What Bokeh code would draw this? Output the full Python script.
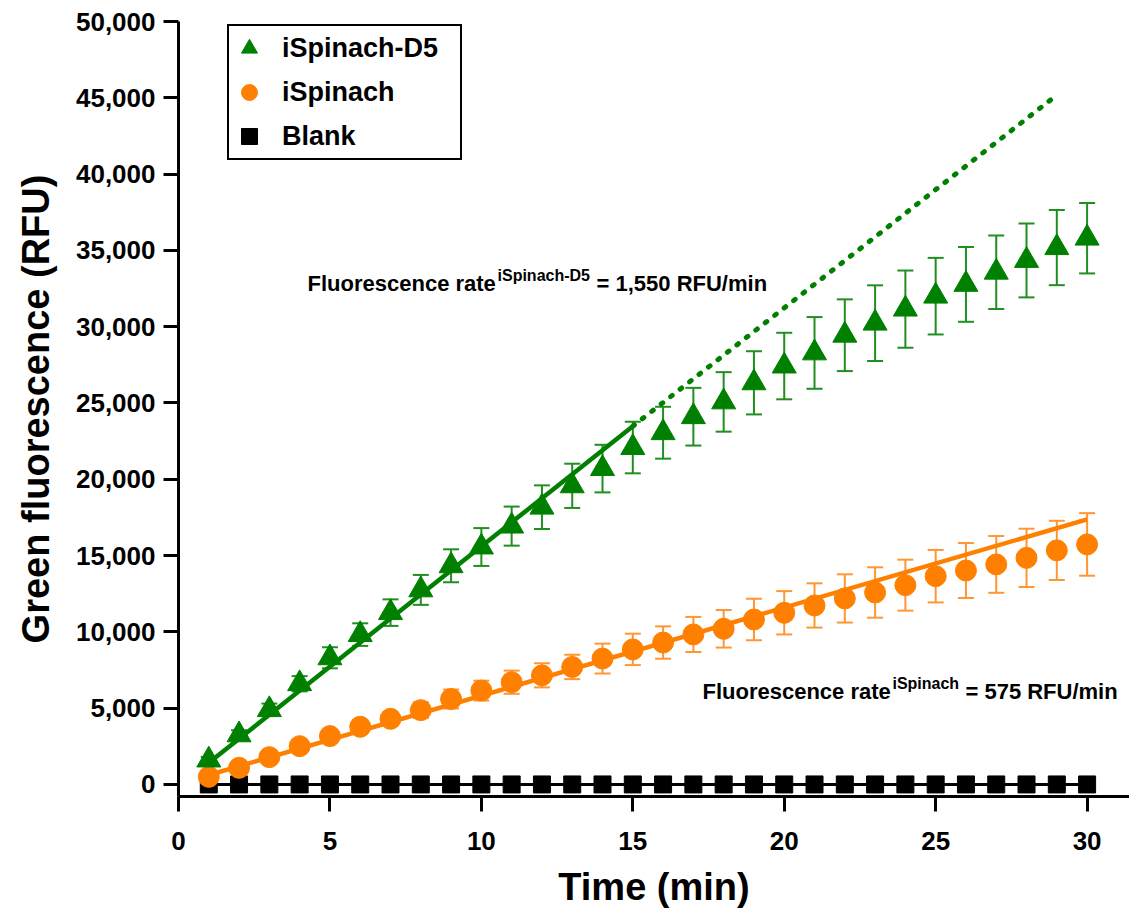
from bokeh.plotting import figure
from bokeh.models import (Range1d, FixedTicker, NumeralTickFormatter, Whisker, TeeHead,
                          ColumnDataSource, Legend, LegendItem, Label)
from bokeh.embed import file_html
from bokeh.resources import INLINE

# ---------------- data ----------------
time_min = [1, 2, 3, 4, 5, 6, 7, 8, 9, 10, 11, 12, 13, 14, 15,
            16, 17, 18, 19, 20, 21, 22, 23, 24, 25, 26, 27, 28, 29, 30]

d5_mean = [1600, 3250, 4900, 6600, 8300, 9820, 11260, 12750, 14330, 15560,
           16930, 18170, 19570, 20700, 22080, 23050, 24100, 25070, 26320, 27420,
           28280, 29440, 30230, 31150, 32000, 32770, 33570, 34340, 35180, 35800]
d5_sd = [200, 300, 400, 500, 690, 740, 870, 980, 1080, 1240,
         1280, 1430, 1450, 1560, 1690, 1700, 1890, 1950, 2070, 2180,
         2350, 2350, 2480, 2530, 2510, 2450, 2410, 2420, 2460, 2310]

isp_mean = [500, 1090, 1790, 2510, 3170, 3780, 4300, 4870, 5600, 6150,
            6700, 7150, 7700, 8250, 8850, 9300, 9830, 10200, 10810, 11250,
            11730, 12190, 12580, 13060, 13650, 14020, 14420, 14850, 15340, 15730]
isp_sd = [150, 200, 250, 300, 350, 400, 450, 520, 620, 650,
          760, 790, 800, 980, 1030, 1060, 1150, 1230, 1360, 1420,
          1450, 1580, 1650, 1670, 1720, 1800, 1860, 1910, 1940, 2050]

blank_mean = [0, 0, 0, 0, 0, 0, 0, 0, 0, 0, 0, 0, 0, 0, 0,
              0, 0, 0, 0, 0, 0, 0, 0, 0, 0, 0, 0, 0, 0, 0]

# linear fits (end points)
d5_fit_x = [1, 15]
d5_fit_y = [1420, 23480]
d5_ext_x = [15, 28.8]
d5_ext_y = [23480, 44870]
isp_fit_x = [1, 30]
isp_fit_y = [620, 17370]

x_ticks = [0, 5, 10, 15, 20, 25, 30]
y_ticks = [0, 5000, 10000, 15000, 20000, 25000, 30000, 35000, 40000, 45000, 50000]

series_labels = ["iSpinach-D5", "iSpinach", "Blank"]

GREEN = "#008000"
GREEN_ERR = "#1f8f1f"
ORANGE = "#FF8000"
ORANGE_ERR = "#FF9633"
FONT = "Liberation Sans"

# ---------------- figure ----------------
p = figure(width=1129, height=910, x_range=Range1d(0, 31.4), y_range=Range1d(-790, 50000),
           output_backend="svg", toolbar_location=None,
           min_border_left=178, min_border_right=0, min_border_top=21, min_border_bottom=114)
p.outline_line_color = None
p.xgrid.visible = False
p.ygrid.visible = False
p.background_fill_color = "white"

for ax in (p.xaxis[0], p.yaxis[0]):
    ax.axis_line_width = 3
    ax.axis_line_color = "black"
    ax.major_tick_line_width = 3
    ax.major_tick_line_color = "black"
    ax.major_tick_out = 15
    ax.major_tick_in = 0
    ax.minor_tick_out = 0
    ax.minor_tick_in = 0
    ax.major_label_text_font = FONT
    ax.major_label_text_font_style = "bold"
    ax.major_label_text_font_size = "26px"
    ax.major_label_text_color = "black"
    ax.axis_label_text_font = FONT
    ax.axis_label_text_font_style = "bold"
    ax.axis_label_text_font_size = "38px"
    ax.axis_label_text_color = "black"

p.xaxis[0].ticker = FixedTicker(ticks=x_ticks)
p.yaxis[0].ticker = FixedTicker(ticks=y_ticks)
p.yaxis[0].formatter = NumeralTickFormatter(format="0,0")
p.xaxis[0].axis_label = "Time (min)"
p.yaxis[0].axis_label = "Green fluorescence (RFU)"
p.xaxis[0].major_label_standoff = 20
p.xaxis[0].axis_label_standoff = 13
p.yaxis[0].major_label_standoff = 8
p.yaxis[0].axis_label_standoff = 16

# ---------------- error bars ----------------
def add_err(mean, sd, color):
    src = ColumnDataSource(dict(x=time_min,
                                upper=[m + s for m, s in zip(mean, sd)],
                                lower=[m - s for m, s in zip(mean, sd)]))
    w = Whisker(source=src, base="x", upper="upper", lower="lower", dimension="height",
                line_color=color, line_width=2,
                upper_head=TeeHead(size=16, line_color=color, line_width=2),
                lower_head=TeeHead(size=16, line_color=color, line_width=2))
    p.add_layout(w)

add_err(d5_mean, d5_sd, GREEN_ERR)
add_err(isp_mean, isp_sd, ORANGE_ERR)

# ---------------- series ----------------
p.line(time_min, blank_mean, line_color="black", line_width=3)
r_blank = p.scatter(time_min, blank_mean, marker="square", size=17,
                    fill_color="black", line_color="black")

r_isp = p.scatter(time_min, isp_mean, marker="circle", size=21,
                  fill_color=ORANGE, line_color=ORANGE)
p.line(isp_fit_x, isp_fit_y, line_color=ORANGE, line_width=4.5)

r_d5 = p.scatter(time_min, d5_mean, marker="triangle", size=24,
                 fill_color=GREEN, line_color=GREEN)
p.line(d5_fit_x, d5_fit_y, line_color=GREEN, line_width=4.5)
p.line(d5_ext_x, d5_ext_y, line_color=GREEN, line_width=5,
       line_dash="2 10", line_cap="round")

# ---------------- legend ----------------
legend = Legend(items=[LegendItem(label=series_labels[0], renderers=[r_d5]),
                       LegendItem(label=series_labels[1], renderers=[r_isp]),
                       LegendItem(label=series_labels[2], renderers=[r_blank])],
                location=(49, 636), orientation="vertical",
                glyph_width=40, glyph_height=44, spacing=0, padding=0, margin=0,
                label_standoff=13, label_width=178, label_height=30,
                label_text_font=FONT, label_text_font_style="bold",
                label_text_font_size="27px", label_text_color="black",
                border_line_color="black", border_line_width=2, border_line_alpha=1.0,
                background_fill_color="white", background_fill_alpha=1.0)
p.add_layout(legend)

# ---------------- rate annotations ----------------
def rate_label(x, y, sup_y, sup_text, rest_text, sup_w):
    main_w = 190
    p.add_layout(Label(x=x, y=y, text="Fluorescence rate", text_font=FONT,
                       text_font_style="bold", text_font_size="22px",
                       text_baseline="alphabetic", text_color="black"))
    p.add_layout(Label(x=x, y=sup_y, x_offset=main_w, text=sup_text, text_font=FONT,
                       text_font_style="bold", text_font_size="16px",
                       text_baseline="alphabetic", text_color="black"))
    p.add_layout(Label(x=x, y=y, x_offset=main_w + sup_w + 6, text=rest_text,
                       text_font=FONT, text_font_style="bold", text_font_size="22px",
                       text_baseline="alphabetic", text_color="black"))

rate_label(4.26, 32830, 33380, "iSpinach-D5", "= 1,550 RFU/min", 93)
rate_label(17.3, 6094, 6640, "iSpinach", "= 575 RFU/min", 67)

open("out.html", "w").write(file_html(p, INLINE))
